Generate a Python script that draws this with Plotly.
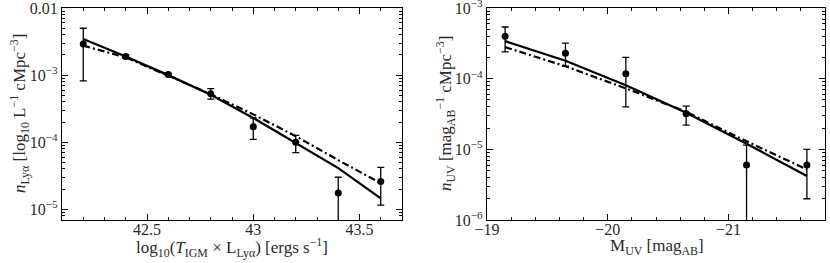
import numpy as np
import plotly.graph_objects as go

# ---------------- data ----------------
# Left panel: Lyα luminosity function
lya_x = [42.2, 42.4, 42.6, 42.8, 43.0, 43.2, 43.4, 43.6]
lya_n = [2.9e-3, 1.9e-3, 1.02e-3, 5.3e-4, 1.7e-4, 1.0e-4, 1.75e-5, 2.6e-5]
lya_hi = [5.0e-3, 2.0e-3, 1.06e-3, 6.3e-4, 2.3e-4, 1.26e-4, 3.0e-5, 4.2e-5]
lya_lo = [8.2e-4, 1.8e-3, 0.98e-3, 4.4e-4, 1.1e-4, 7.0e-5, 0.0, 1.15e-5]
lya_model_solid = [3.45e-3, 1.9e-3, 1.0e-3, 5.1e-4, 2.3e-4, 9.6e-5, 4.1e-5, 1.45e-5]
lya_model_dashdot = [2.75e-3, 1.84e-3, 9.8e-4, 5.2e-4, 2.6e-4, 1.23e-4, 5.4e-5, 2.45e-5]

# Right panel: UV luminosity function
uv_x = [-19.15, -19.65, -20.15, -20.65, -21.15, -21.65]
uv_n = [4.0e-4, 2.3e-4, 1.18e-4, 3.2e-5, 6.0e-6, 6.0e-6]
uv_hi = [5.4e-4, 3.2e-4, 2.0e-4, 4.1e-5, 1.15e-5, 1.0e-5]
uv_lo = [2.4e-4, 1.5e-4, 4.0e-5, 2.2e-5, 0.0, 2.0e-6]
uv_model_solid = [3.4e-4, 1.8e-4, 8.1e-5, 3.3e-5, 1.2e-5, 4.2e-6]
uv_model_dashdot = [2.8e-4, 1.5e-4, 7.3e-5, 3.4e-5, 1.3e-5, 5.2e-6]

lya_ytickvals = [1e-5, 1e-4, 1e-3, 1e-2]
lya_yticktext = ["10<sup>−5</sup>", "10<sup>−4</sup>", "10<sup>−3</sup>", "0.01"]
lya_xtickvals = [42.5, 43.0, 43.5]
lya_xticktext = ["42.5", "43", "43.5"]

uv_ytickvals = [1e-6, 1e-5, 1e-4, 1e-3]
uv_yticktext = ["10<sup>−6</sup>", "10<sup>−5</sup>", "10<sup>−4</sup>", "10<sup>−3</sup>"]
uv_xtickvals = [-19, -20, -21]
uv_xticktext = ["−19", "−20", "−21"]

# ---------------- figure ----------------
FONT = "Liberation Serif, DejaVu Serif, serif"
TXT = "#2a2a2a"
W, H = 830, 263

def err_arrays(vals, hi, lo):
    plus = [h - v for v, h in zip(vals, hi)]
    minus = [v - (l if l > 0 else v * 1e-4) for v, l in zip(vals, lo)]
    return plus, minus

fig = go.Figure()

def add_panel(xa, ya, x, n, hi, lo, solid, dd):
    plus, minus = err_arrays(n, hi, lo)
    fig.add_trace(go.Scatter(x=x, y=solid, mode="lines", xaxis=xa, yaxis=ya,
                             line=dict(color="black", width=2.2), showlegend=False))
    fig.add_trace(go.Scatter(x=x, y=dd, mode="lines", xaxis=xa, yaxis=ya,
                             line=dict(color="black", width=2.2, dash="7px,3px,2px,3px"),
                             showlegend=False))
    fig.add_trace(go.Scatter(x=x, y=n, mode="markers", xaxis=xa, yaxis=ya,
                             marker=dict(color="black", size=7),
                             error_y=dict(type="data", array=plus, arrayminus=minus,
                                          color="black", thickness=1.3, width=3.5),
                             showlegend=False))

add_panel("x", "y", lya_x, lya_n, lya_hi, lya_lo, lya_model_solid, lya_model_dashdot)
add_panel("x2", "y2", uv_x, uv_n, uv_hi, uv_lo, uv_model_solid, uv_model_dashdot)

def minor_log(lo_dec, hi_dec):
    vals = []
    for d in range(lo_dec, hi_dec):
        for m in range(2, 10):
            vals.append(m * 10.0 ** d)
    return vals

common = dict(showline=True, linecolor="black", linewidth=1.2, mirror="allticks",
              ticks="inside", ticklen=6, tickwidth=1, tickcolor="black",
              showgrid=False, zeroline=False, automargin=False,
              ticklabeloverflow="allow",
              tickfont=dict(family=FONT, size=16, color=TXT))

y0 = 1 - 220 / H
y1 = 1 - 8 / H

fig.update_layout(
    width=W, height=H, margin=dict(l=0, r=0, t=0, b=0),
    paper_bgcolor="white", plot_bgcolor="white",
    xaxis=dict(domain=[62 / W, 402 / W], range=[42.1, 43.7], anchor="y",
               tickvals=lya_xtickvals, ticktext=lya_xticktext, ticklabelstandoff=-5,
               minor=dict(ticks="inside", ticklen=3, tickcolor="black", dtick=0.1, tick0=42.0),
               **common),
    yaxis=dict(domain=[y0, y1], type="log", range=[-5.16, -1.999], anchor="x",
               tickvals=lya_ytickvals, ticktext=lya_yticktext,
               minor=dict(ticks="inside", ticklen=3, tickcolor="black",
                          tickvals=minor_log(-6, -2)),
               **common),
    xaxis2=dict(domain=[487 / W, 825 / W], range=[-19.0, -21.8], anchor="y2",
                tickvals=uv_xtickvals, ticktext=uv_xticktext, ticklabelstandoff=-5,
                minor=dict(ticks="inside", ticklen=3, tickcolor="black", dtick=0.2, tick0=-19.0),
                **common),
    yaxis2=dict(domain=[y0, y1], type="log", range=[-6.0, -2.999], anchor="x2",
                tickvals=uv_ytickvals, ticktext=uv_yticktext,
                minor=dict(ticks="inside", ticklen=3, tickcolor="black",
                           tickvals=minor_log(-7, -3)),
                **common),
)

title_font = dict(family=FONT, size=17, color=TXT)
annos = [
    dict(text="log<sub>10</sub>(<i>T</i><sub>IGM</sub> × L<sub>Lyα</sub>) [ergs s<sup>−1</sup>]",
         x=232 / W, y=1 - 247 / H, textangle=0),
    dict(text="M<sub>UV</sub> [mag<sub>AB</sub>]", x=657 / W, y=1 - 247 / H, textangle=0),
    dict(text="<i>n</i><sub>Lyα</sub> [log<sub>10</sub> L<sup>−1</sup> cMpc<sup>−3</sup>]",
         x=20 / W, y=1 - 114 / H, textangle=-90),
    dict(text="<i>n</i><sub>UV</sub> [mag<sub>AB</sub><sup>−1</sup> cMpc<sup>−3</sup>]",
         x=446 / W, y=1 - 114 / H, textangle=-90),
]
for a in annos:
    fig.add_annotation(xref="paper", yref="paper", showarrow=False,
                       xanchor="center", yanchor="middle", font=title_font, **a)

fig.write_html("out.html", config={"displayModeBar": False},
               post_script="document.body.style.margin='0';document.body.style.padding='0';")
